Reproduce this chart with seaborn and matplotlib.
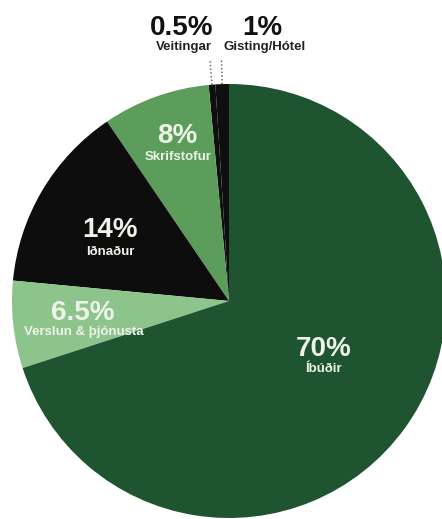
import numpy as np
import seaborn as sb
import matplotlib.pyplot as plt

# Data: wedges listed counter-clockwise starting at 12 o'clock
categories = ['Gisting/Hótel', 'Veitingar', 'Skrifstofur', 'Iðnaður',
              'Verslun & þjónusta', 'Íbúðir']
shares = [1, 0.5, 8, 14, 6.5, 70]
pct_labels = ['1%', '0.5%', '8%', '14%', '6.5%', '70%']
colors = ['#0e0f0e', '#0e0f0e', '#5c9d5b', '#0d0d0d', '#8dc48b', '#1e5530']

sb.set_theme(style="white")
plt.rcParams['font.family'] = ['Liberation Sans', 'DejaVu Sans']

W, H = 442, 519
fig = plt.figure(figsize=(W / 100, H / 100), dpi=100)
fig.patch.set_facecolor('white')

# pie centre and radius in pixels
cx, cy, r = 229, 301, 217
ax = fig.add_axes([(cx - r) / W, (H - cy - r) / H, 2 * r / W, 2 * r / H])
wedges, _ = ax.pie(shares, colors=colors, startangle=90, counterclock=True,
                   wedgeprops=dict(linewidth=0))
ax.set_xlim(-1, 1)
ax.set_ylim(-1, 1)
ax.set_aspect('equal')
ax.axis('off')


def px(x, y):
    return x / W, 1 - y / H


# labels inside the wedges (pixel position of centre / baseline)
inside = {
    'Íbúðir': ((324, 356), (324, 372)),
    'Verslun & þjónusta': ((83, 320), (84, 335)),
    'Iðnaður': ((110, 237), (110, 255)),
    'Skrifstofur': ((177, 143), (178, 160)),
}
txt_col = '#eef3ea'
for cat, pct in zip(categories, pct_labels):
    if cat in inside:
        (x1, y1), (x2, y2) = inside[cat]
        fig.text(*px(x1, y1), pct, ha='center', va='baseline',
                 fontsize=20, fontweight='bold', color=txt_col)
        fig.text(*px(x2, y2), cat, ha='center', va='baseline',
                 fontsize=9.5, fontweight='bold', color=txt_col)

# small slices: labels above the pie with dotted leader lines
outside = {
    'Veitingar': ((182, 35), (184, 50)),
    'Gisting/Hótel': ((262, 35), (265, 50)),
}
for w, cat, pct in zip(wedges, categories, pct_labels):
    if cat in outside:
        (x1, y1), (x2, y2) = outside[cat]
        fig.text(*px(x1, y1), pct, ha='center', va='baseline',
                 fontsize=20, fontweight='bold', color='#111111')
        fig.text(*px(x2, y2), cat, ha='center', va='baseline',
                 fontsize=9.5, fontweight='bold', color='#222222')
        ang = np.deg2rad((w.theta1 + w.theta2) / 2)
        ax.plot([np.cos(ang) * 1.0, np.cos(ang) * 1.11],
                [np.sin(ang) * 1.0, np.sin(ang) * 1.11],
                color='#555555', linestyle=':', linewidth=1,
                clip_on=False)

fig.savefig('out.png', dpi=100)
